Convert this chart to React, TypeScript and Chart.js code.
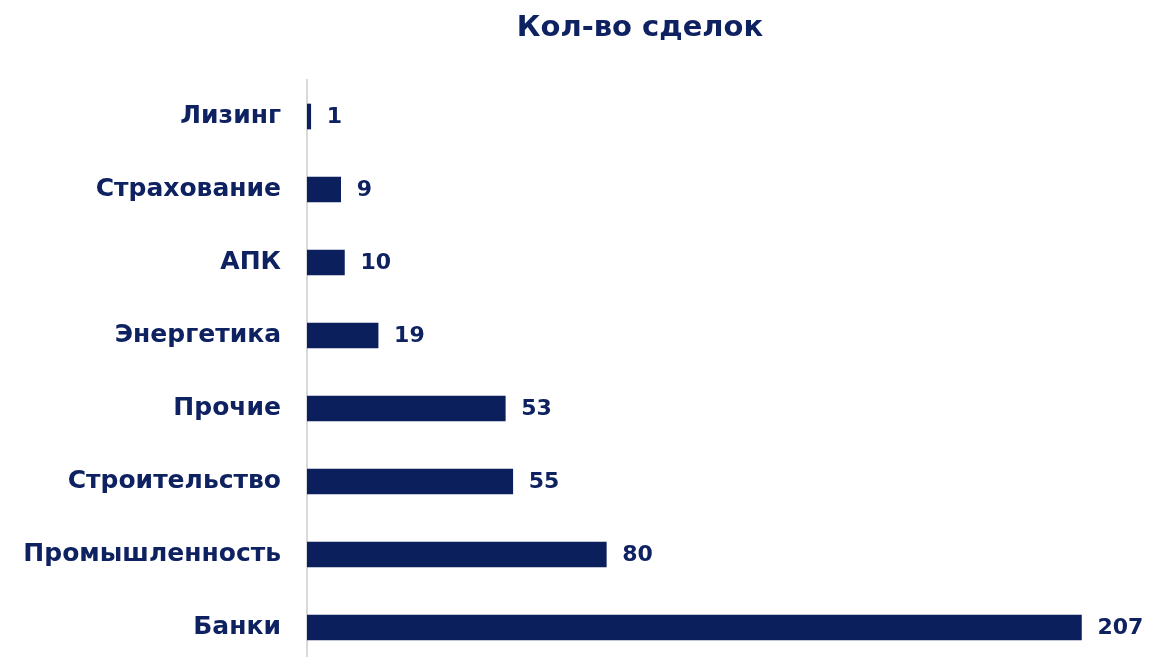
import React, { useEffect, useRef } from "react";
import { Chart, registerables } from "chart.js";

Chart.register(...registerables);

const categories = ["Лизинг", "Страхование", "АПК", "Энергетика", "Прочие", "Строительство", "Промышленность", "Банки"];
const deals = [1, 9, 10, 19, 53, 55, 80, 207];
const titleText = "Кол-во сделок";

const NAVY = "#0b1f5c";
const TEXT = "#0e2160";
const FONT = "'DejaVu Sans', sans-serif";
const H = 705;

export default function App() {
  const ref = useRef<HTMLCanvasElement | null>(null);
  useEffect(() => {
    if (!ref.current) return;
    const labelPlugin = {
      id: "valueLabels",
      afterDatasetsDraw(chart: any) {
        const ctx = chart.ctx;
        const meta = chart.getDatasetMeta(0);
        ctx.save();
        ctx.fillStyle = TEXT;
        ctx.font = `bold 22px ${FONT}`;
        ctx.textAlign = "left";
        ctx.textBaseline = "middle";
        meta.data.forEach((el: any, i: number) => {
          ctx.fillText(String(deals[i]), el.x + 16, el.y + 1);
        });
        ctx.restore();
      },
    };
    const titlePlugin = {
      id: "customTitle",
      afterDraw(chart: any) {
        const ctx = chart.ctx;
        ctx.save();
        ctx.fillStyle = TEXT;
        ctx.font = `bold 29px ${FONT}`;
        ctx.textAlign = "center";
        ctx.textBaseline = "middle";
        ctx.fillText(titleText, 640, 28);
        ctx.restore();
      },
    };
    const chart = new Chart(ref.current, {
      type: "bar",
      data: {
        labels: categories,
        datasets: [
          {
            data: deals,
            backgroundColor: NAVY,
            barThickness: 25,
            borderWidth: 0,
          },
        ],
      },
      options: {
        indexAxis: "y",
        animation: false,
        responsive: false,
        maintainAspectRatio: false,
        layout: { padding: { top: 80, right: 4, left: 0, bottom: 0 } },
        plugins: {
          legend: { display: false },
          title: { display: false },
          tooltip: { enabled: false },
        },
        scales: {
          x: {
            display: false,
            min: 0,
            max: 228,
          },
          y: {
            afterFit(scale: any) {
              scale.width = 307;
            },
            grid: { display: false, drawTicks: false },
            border: { display: true, color: "#d9d9d9", width: 2 },
            ticks: {
              color: TEXT,
              font: { family: FONT, size: 25, weight: "bold" },
              padding: 26,
            },
          },
        },
      },
      plugins: [labelPlugin, titlePlugin],
    });
    return () => chart.destroy();
  }, []);
  return (
    <div style={{ position: "fixed", left: 0, top: 0, width: 1164, height: H, background: "#fff" }}>
      <canvas ref={ref} width={1164} height={H} style={{ width: 1164, height: H }} />
    </div>
  );
}
